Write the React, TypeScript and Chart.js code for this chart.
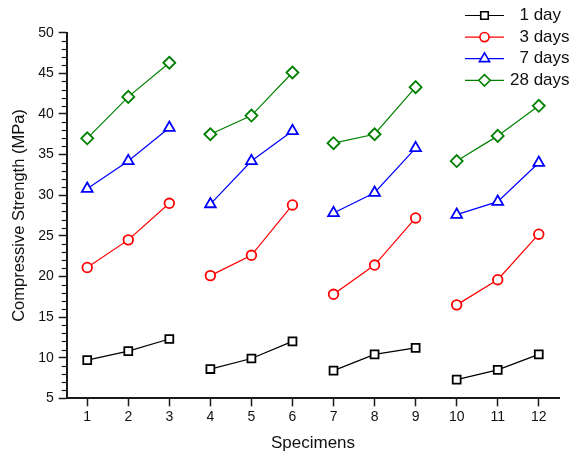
import React, { useEffect, useRef } from 'react';
import { Chart, registerables } from 'chart.js';
import { drawPoint } from 'chart.js/helpers';

Chart.register(...registerables);

const specimens = [1, 2, 3, 4, 5, 6, 7, 8, 9, 10, 11, 12];
const oneDay = [9.7, 10.8, 12.3, 8.6, 9.9, 12.0, 8.4, 10.4, 11.2, 7.3, 8.5, 10.4];
const threeDays = [21.1, 24.5, 29.0, 20.1, 22.6, 28.8, 17.8, 21.4, 27.2, 16.5, 19.6, 25.2];
const sevenDays = [30.8, 34.2, 38.3, 28.9, 34.2, 37.9, 27.8, 30.3, 35.8, 27.6, 29.2, 34.0];
const twentyEightDays = [37.0, 42.1, 46.3, 37.5, 39.8, 45.1, 36.4, 37.5, 43.3, 34.2, 37.3, 41.0];
const seriesLabels = ['1 day', '3 days', '7 days', '28 days'];
const xTickValues = specimens;
const yTickValues = [5, 10, 15, 20, 25, 30, 35, 40, 45, 50];

const FONT = "'Liberation Sans', Arial, sans-serif";
const AXIS = '#1a1a1a';

export default function App() {
  const ref = useRef<HTMLCanvasElement>(null);

  useEffect(() => {
    if (!ref.current) return;
    const series = [
      { label: seriesLabels[0], data: oneDay, color: '#000000', style: 'rect', radius: 5.6 },
      { label: seriesLabels[1], data: threeDays, color: '#ff0000', style: 'circle', radius: 4.8 },
      { label: seriesLabels[2], data: sevenDays, color: '#0000ff', style: 'triangle', radius: 6.2 },
      { label: seriesLabels[3], data: twentyEightDays, color: '#008000', style: 'rectRot', radius: 6 },
    ];

    const minorTicks = {
      id: 'minorTicks',
      afterDraw(chart: any) {
        const y = chart.scales.y;
        const left = chart.chartArea.left;
        const ctx = chart.ctx;
        ctx.save();
        ctx.strokeStyle = AXIS;
        ctx.lineWidth = 1.2;
        for (let v = y.min; v <= y.max; v += 1) {
          if (v % 5 === 0) continue;
          const py = Math.round(y.getPixelForValue(v)) + 0.5;
          ctx.beginPath();
          ctx.moveTo(left - 5, py);
          ctx.lineTo(left, py);
          ctx.stroke();
        }
        ctx.restore();
      },
    };

    const customLegend = {
      id: 'customLegend',
      afterDraw(chart: any) {
        const ctx = chart.ctx;
        ctx.save();
        ctx.font = `17px ${FONT}`;
        ctx.textBaseline = 'middle';
        const numW = ctx.measureText('28').width;
        const textX = 510;
        series.forEach((s, i) => {
          const cy = 15.5 + i * 21.6;
          ctx.strokeStyle = s.color;
          ctx.lineWidth = 1.2;
          ctx.beginPath();
          ctx.moveTo(465, cy);
          ctx.lineTo(504, cy);
          ctx.stroke();
          ctx.fillStyle = '#ffffff';
          ctx.lineWidth = 1.6;
          drawPoint(ctx, { pointStyle: s.style, radius: s.radius * 0.95, borderWidth: 1.6, rotation: 0 } as any, 484.5, cy);
          const parts = s.label.split(' ');
          ctx.fillStyle = '#111111';
          ctx.textAlign = 'right';
          ctx.fillText(parts[0], textX + numW, cy);
          ctx.textAlign = 'left';
          ctx.fillText(' ' + parts.slice(1).join(' '), textX + numW, cy);
        });
        ctx.restore();
      },
    };

    const chart = new Chart(ref.current, {
      type: 'line',
      data: {
        datasets: series.map((s) => ({
          label: s.label,
          data: specimens.map((x, i) => ({ x, y: s.data[i] })),
          borderColor: s.color,
          borderWidth: 1.2,
          pointStyle: s.style as any,
          pointRadius: s.radius,
          pointBorderWidth: 1.8,
          pointBackgroundColor: '#ffffff',
          pointBorderColor: s.color,
          tension: 0,
          segment: {
            borderColor: (ctx: any) => (ctx.p0DataIndex % 3 === 2 ? 'rgba(0,0,0,0)' : undefined),
          },
        })),
      },
      options: {
        animation: false,
        responsive: false,
        layout: { padding: { left: 0, top: 32.7, right: 21.7, bottom: 0 } },
        plugins: { legend: { display: false }, tooltip: { enabled: false } },
        scales: {
          x: {
            type: 'linear',
            min: 0.5,
            max: 12.5,
            afterBuildTicks: (s: any) => {
              s.ticks = xTickValues.map((v) => ({ value: v }));
            },
            afterFit: (s: any) => {
              s.height = 57.7;
            },
            grid: { drawOnChartArea: false, drawTicks: true, tickLength: 8, tickWidth: 1.5, tickColor: AXIS },
            border: { display: true, color: AXIS, width: 2 },
            ticks: { color: '#111111', font: { family: FONT, size: 14 }, padding: 2, autoSkip: false, maxRotation: 0 },
            title: {
              display: true,
              text: 'Specimens',
              color: '#111111',
              font: { family: FONT, size: 17 },
              padding: { top: 0, bottom: 2.5 },
            },
          },
          y: {
            type: 'linear',
            min: 5,
            max: 50,
            afterBuildTicks: (s: any) => {
              s.ticks = yTickValues.map((v) => ({ value: v }));
            },
            afterFit: (s: any) => {
              s.width = 66.7;
            },
            grid: { drawOnChartArea: false, drawTicks: true, tickLength: 8, tickWidth: 1.5, tickColor: AXIS },
            border: { display: true, color: AXIS, width: 2 },
            ticks: { color: '#111111', font: { family: FONT, size: 14 }, padding: 5 },
            title: {
              display: true,
              text: 'Compressive Strength (MPa)',
              color: '#111111',
              font: { family: FONT, size: 16.5 },
              padding: { top: 10, bottom: 0 },
            },
          },
        },
      },
      plugins: [minorTicks, customLegend],
    } as any);

    return () => chart.destroy();
  }, []);

  return (
    <div style={{ position: 'fixed', left: 0, top: 0, width: 581, height: 456, background: '#fff' }}>
      <canvas ref={ref} width={581} height={456} style={{ display: 'block' }} />
    </div>
  );
}
